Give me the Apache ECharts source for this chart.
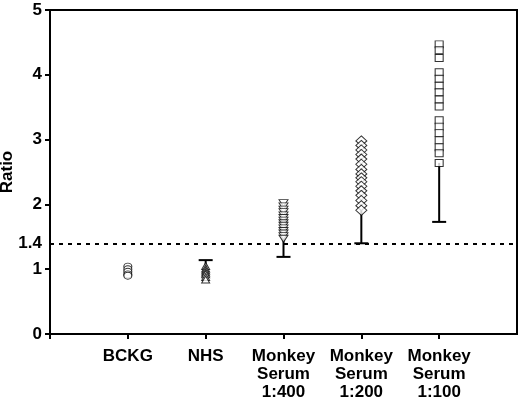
<!DOCTYPE html>
<html><head><meta charset="utf-8">
<script src="https://cdn.jsdelivr.net/npm/echarts@6/dist/echarts.min.js"></script>
<style>html,body{margin:0;padding:0;background:#fff}#c{width:520px;height:399px}</style>
</head><body><div id="c"></div>
<script>
var categories = ['BCKG', 'NHS', 'Monkey\nSerum\n1:400', 'Monkey\nSerum\n1:200', 'Monkey\nSerum\n1:100'];
var yTickLabels = [0, 1, 1.4, 2, 3, 4, 5];
var yTicks = [0, 1, 2, 3, 4, 5];
var threshold = 1.4;
var bckg = [1.04, 1.0, 0.96, 0.92, 0.9];
var nhs = [1.05, 1.01, 0.98, 0.95, 0.92, 0.88, 0.84];
var serum400 = [2.02, 1.97, 1.92, 1.88, 1.83, 1.79, 1.75, 1.71, 1.67, 1.63, 1.59, 1.55, 1.51, 1.47];
var serum200 = [2.98, 2.91, 2.84, 2.77, 2.7, 2.62, 2.54, 2.47, 2.41, 2.35, 2.28, 2.21, 2.14, 2.06, 1.98, 1.91];
var serum100 = [4.47, 4.38, 4.26, 4.04, 3.94, 3.83, 3.73, 3.62, 3.51, 3.3, 3.2, 3.1, 2.99, 2.88, 2.79, 2.64];
// whiskers: [category index (1-based), from, to]
var whiskers = [[2, 1.0, 1.14], [3, 1.47, 1.19], [4, 1.91, 1.40], [5, 2.64, 1.73]];

function pts(idx, arr){ return arr.map(function(v){ return [idx, v]; }); }
var hollow = {color:'#fff', borderColor:'#000', borderWidth:1};
var font = 'Liberation Sans, Arial';
var chart = echarts.init(document.getElementById('c'));
chart.setOption({
  animation:false,
  grid:{left:50, right:3, top:10, bottom:65, containLabel:false, outerBoundsMode:'none', show:true, borderColor:'#000', borderWidth:2, backgroundColor:'transparent'},
  xAxis:{type:'value', min:0, max:6, interval:1,
    axisLine:{lineStyle:{color:'#000', width:2}},
    splitLine:{show:false},
    axisTick:{length:5, lineStyle:{color:'#000', width:2}, customValues:[0,1,2,3,4,5]},
    axisLabel:{customValues:[1,2,3,4,5], margin:13, color:'#000', fontFamily:font, fontWeight:'bold', fontSize:17, lineHeight:18,
      formatter:function(v){ return categories[v-1] || ''; }}
  },
  yAxis:{type:'value', min:0, max:5, interval:1, name:'Ratio', nameLocation:'middle', nameGap:34, nameMoveOverlap:false,
    nameTextStyle:{color:'#000', fontFamily:font, fontWeight:'bold', fontSize:17},
    axisLine:{lineStyle:{color:'#000', width:2}},
    splitLine:{show:false},
    axisTick:{length:5, lineStyle:{color:'#000', width:2}, customValues:yTicks},
    axisLabel:{customValues:yTickLabels, margin:8, color:'#000', fontFamily:font, fontWeight:'bold', fontSize:17}
  },
  series:[
    {type:'custom', data:whiskers, z:1,
      renderItem:function(params, api){
        var a = api.coord([api.value(0), api.value(1)]);
        var b = api.coord([api.value(0), api.value(2)]);
        return {type:'group', children:[
          {type:'line', shape:{x1:a[0], y1:a[1], x2:b[0], y2:b[1]}, style:{stroke:'#000', lineWidth:2}},
          {type:'line', shape:{x1:b[0]-7, y1:b[1], x2:b[0]+7, y2:b[1]}, style:{stroke:'#000', lineWidth:2}}
        ]};
      },
      markLine:{silent:true, symbol:'none', label:{show:false},
        lineStyle:{color:'#000', type:[4,5], width:2}, data:[{yAxis:threshold}]}
    },
    {type:'scatter', data:pts(1,bckg), symbol:'circle', symbolSize:[8,7], itemStyle:hollow, z:3},
    {type:'scatter', data:pts(2,nhs), symbol:'triangle', symbolSize:[8,7], itemStyle:hollow, z:3},
    {type:'scatter', data:pts(3,serum400), symbol:'triangle', symbolRotate:180, symbolSize:[9,7], itemStyle:hollow, z:3},
    {type:'scatter', data:pts(4,serum200), symbol:'diamond', symbolSize:[11,10], itemStyle:hollow, z:3},
    {type:'scatter', data:pts(5,serum100), symbol:'rect', symbolSize:[8,7], itemStyle:hollow, z:3}
  ]
});
</script></body></html>
